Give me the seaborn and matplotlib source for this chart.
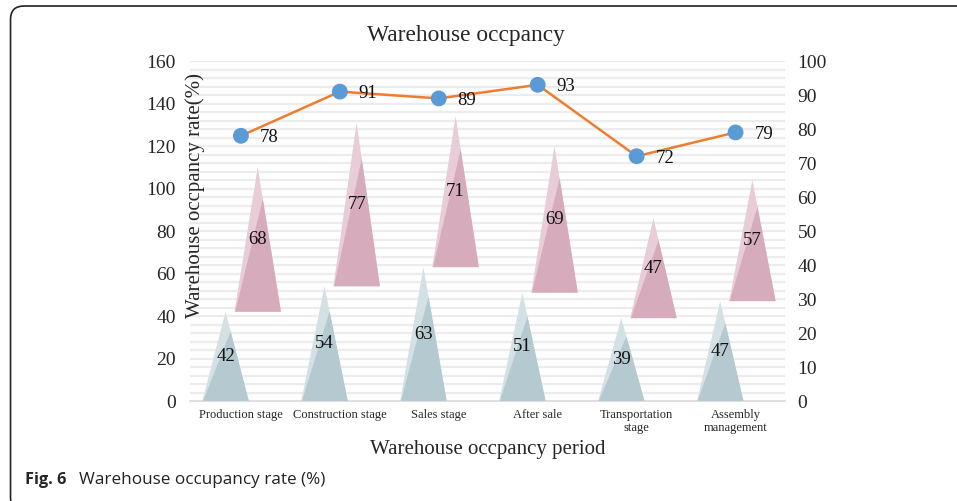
import numpy as np
import pandas as pd
import matplotlib
matplotlib.use("Agg")
import matplotlib.pyplot as plt
from matplotlib import font_manager
from matplotlib.patches import FancyBboxPatch
import seaborn as sns

# --- dados do gráfico ---
periods = ["Production stage", "Construction stage", "Sales stage",
           "After sale", "Transportation\nstage", "Assembly\nmanagement"]
lower_vals = [42, 54, 63, 51, 39, 47]      # série inferior (cinza-azulado)
upper_vals = [68, 77, 71, 69, 47, 57]      # série empilhada (rosa)
occupancy_rate = [78, 91, 89, 93, 72, 79]  # linha, eixo direito

left_ticks = [0, 20, 40, 60, 80, 100, 120, 140, 160]
right_ticks = [0, 10, 20, 30, 40, 50, 60, 70, 80, 90, 100]

sns.set_theme(style="white")
plt.rcParams["font.family"] = ["Liberation Serif", "DejaVu Serif"]

# fonte estreita para a legenda da figura, se existir
installed = {f.name for f in font_manager.fontManager.ttflist}
if "Liberation Sans Narrow" in installed:
    cap_family, cap_size, fig_size = ["Liberation Sans Narrow", "DejaVu Sans"], 14, 14
else:
    cap_family, cap_size, fig_size = ["Open Sans", "DejaVu Sans"], 12.3, 11.8

fig = plt.figure(figsize=(9.57, 5.01), dpi=100)
ax = fig.add_axes([0.1985, 0.1996, 0.6218, 0.6786])

x = np.arange(len(periods))

# linhas de grade finas a cada 4 unidades
for g in np.arange(4, 161, 4):
    ax.axhline(g, color="#ececec", lw=1.6, zorder=0)


def cone(cx, base, height, half, light, dark):
    # triângulo claro externo + parte escura (sombra do cone)
    ax.fill([cx - half, cx + half, cx], [base, base, base + height],
            color=light, lw=0, zorder=2)
    f = 0.78
    ax.fill([cx - half * 0.97, cx + half, cx + half * (1 - f)],
            [base, base, base + f * height],
            color=dark, lw=0, zorder=3)


half_w = 0.235
for i in range(len(periods)):
    cone(x[i] - 0.155, 0, lower_vals[i], half_w, "#d3e1e5", "#b4cad0")
    cone(x[i] + 0.17, lower_vals[i], upper_vals[i], half_w, "#e8ccd7", "#d6abbc")
    ax.text(x[i] - 0.155, lower_vals[i] / 2, str(lower_vals[i]),
            ha="center", va="center", fontsize=13.5, color="#111111", zorder=5)
    ax.text(x[i] + 0.17, lower_vals[i] + upper_vals[i] / 2, str(upper_vals[i]),
            ha="center", va="center", fontsize=13.5, color="#111111", zorder=5)

ax.set_xlim(-0.515, 5.5)
ax.set_ylim(0, 160)
ax.set_yticks(left_ticks)
ax.set_xticks(x)
ax.set_xticklabels(periods, fontsize=9, linespacing=1.1)
ax.tick_params(axis="y", labelsize=14, pad=10, length=0)
ax.tick_params(axis="x", pad=6, length=0)
for s in ["top", "right", "left"]:
    ax.spines[s].set_visible(False)
ax.spines["bottom"].set_color("#d9d9d9")
ax.spines["bottom"].set_linewidth(1.2)
ax.set_ylabel("")
ax.set_xlabel("Warehouse occpancy period", fontsize=15, labelpad=4)

# eixo direito com a linha
ax2 = ax.twinx()
df_line = pd.DataFrame({"x": x, "rate": occupancy_rate})
sns.lineplot(data=df_line, x="x", y="rate", ax=ax2, color="#ed7d31",
             lw=1.8, zorder=4)
sns.scatterplot(data=df_line, x="x", y="rate", ax=ax2, color="#5b9bd5",
                s=130, edgecolor="none", zorder=5)
for xi, v in zip(x, occupancy_rate):
    ax2.text(xi + 0.19, v - 0.6, str(v), ha="left", va="center",
             fontsize=13.5, color="#111111", zorder=6)
ax2.set_ylim(0, 100)
ax2.set_yticks(right_ticks)
ax2.set_ylabel("")
ax2.set_xlabel("")
ax2.tick_params(axis="y", labelsize=14, pad=9, length=0)
for s in ax2.spines.values():
    s.set_visible(False)
ax2.grid(False)

# título e rótulo do eixo y posicionados como no original
fig.text(466 / 957, 1 - 35 / 501, "Warehouse occpancy", fontsize=16.8,
         ha="center", va="center")
fig.text(195 / 957, 1 - 196 / 501, "Warehouse occpancy rate(%)", fontsize=15,
         rotation=90, ha="center", va="center", zorder=10)

# moldura arredondada e legenda da figura
box = FancyBboxPatch((0.011, -0.02), 1.05, 1.008, transform=fig.transFigure,
                     boxstyle="round,pad=0,rounding_size=0.014",
                     fill=False, ec="#222222", lw=1.2, mutation_aspect=1.9)
fig.patches.append(box)
fig.text(25 / 957, 1 - 480 / 501, "Fig. 6", fontsize=fig_size, fontweight="bold",
         family=cap_family, va="center")
fig.text(79 / 957, 1 - 480 / 501, "Warehouse occupancy rate (%)", fontsize=cap_size,
         family=cap_family, va="center", color="#222222")

fig.savefig("out.png", dpi=100)
